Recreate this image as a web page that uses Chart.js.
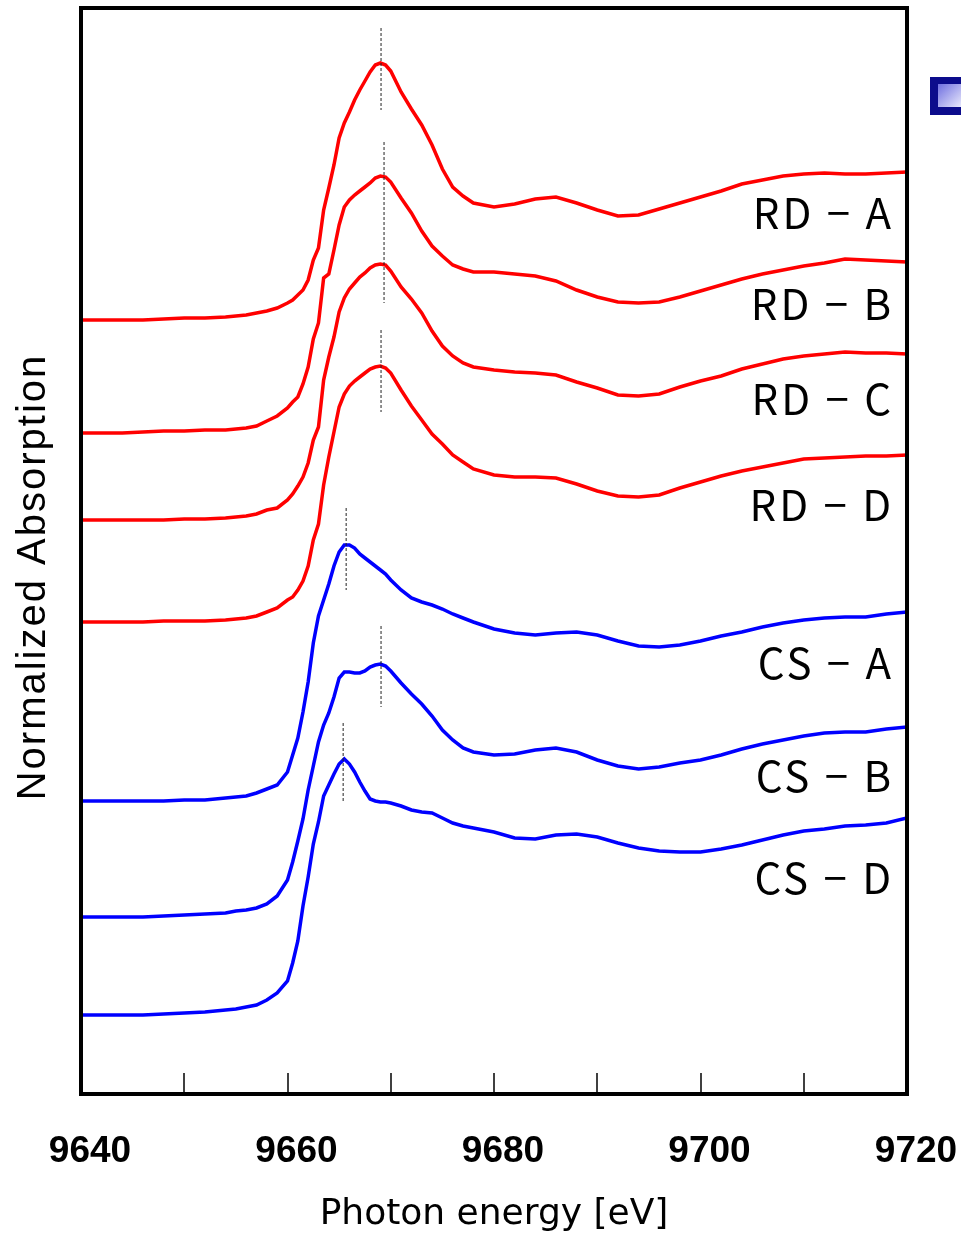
<!DOCTYPE html>
<html>
<head>
<meta charset="utf-8">
<script src="https://cdn.jsdelivr.net/npm/chart.js@4.4.0/dist/chart.umd.min.js"></script>
<style>
  html, body { margin: 0; padding: 0; background: #fff; }
</style>
</head>
<body>
<canvas id="xanesChart" width="961" height="1236"></canvas>
<script>
// photon energy grid (eV), finer steps across the edge
const energy = [9640, 9642, 9644, 9646, 9648, 9650, 9652, 9654, 9655, 9656,
  9657, 9658, 9659, 9660, 9660.5, 9661, 9661.5, 9662, 9662.5, 9663,
  9663.5, 9664, 9664.5, 9665, 9665.5, 9666, 9666.5, 9667, 9667.5, 9668,
  9668.5, 9669, 9669.5, 9670, 9671, 9672, 9673, 9674, 9675, 9676,
  9677, 9678, 9680, 9682, 9684, 9686, 9688, 9690, 9692, 9694,
  9696, 9698, 9700, 9702, 9704, 9706, 9708, 9710, 9712, 9714,
  9716, 9718, 9720];

// normalized absorption, stacked with offsets
const rdA = [7.74, 7.74, 7.74, 7.74, 7.75, 7.76, 7.76, 7.77, 7.78, 7.79,
  7.81, 7.83, 7.86, 7.91, 7.94, 7.99, 8.04, 8.14, 8.34, 8.46,
  8.84, 9.06, 9.29, 9.56, 9.71, 9.82, 9.94, 10.04, 10.13, 10.22,
  10.29, 10.31, 10.29, 10.23, 10.02, 9.85, 9.69, 9.49, 9.25, 9.07,
  8.98, 8.91, 8.87, 8.90, 8.95, 8.97, 8.91, 8.84, 8.78, 8.79,
  8.85, 8.91, 8.97, 9.03, 9.10, 9.14, 9.18, 9.20, 9.21, 9.20,
  9.20, 9.21, 9.22];
const rdB = [6.61, 6.61, 6.61, 6.62, 6.63, 6.63, 6.64, 6.64, 6.65, 6.66,
  6.68, 6.73, 6.78, 6.86, 6.92, 6.97, 7.10, 7.27, 7.55, 7.71,
  8.16, 8.20, 8.44, 8.69, 8.87, 8.94, 8.99, 9.03, 9.07, 9.11,
  9.16, 9.18, 9.17, 9.12, 8.96, 8.81, 8.63, 8.48, 8.38, 8.29,
  8.25, 8.22, 8.22, 8.20, 8.18, 8.13, 8.04, 7.97, 7.92, 7.91,
  7.92, 7.97, 8.03, 8.09, 8.15, 8.20, 8.24, 8.28, 8.31, 8.35,
  8.34, 8.33, 8.32];
const rdC = [5.74, 5.74, 5.74, 5.74, 5.74, 5.75, 5.75, 5.76, 5.77, 5.78,
  5.80, 5.84, 5.86, 5.94, 6.00, 6.08, 6.17, 6.31, 6.54, 6.67,
  7.14, 7.37, 7.57, 7.82, 7.96, 8.05, 8.11, 8.17, 8.21, 8.26,
  8.29, 8.30, 8.29, 8.23, 8.07, 7.95, 7.81, 7.63, 7.48, 7.38,
  7.31, 7.27, 7.24, 7.22, 7.21, 7.19, 7.12, 7.06, 6.99, 6.98,
  7.00, 7.07, 7.13, 7.18, 7.25, 7.30, 7.35, 7.38, 7.40, 7.42,
  7.41, 7.41, 7.40];
const rdD = [4.72, 4.72, 4.72, 4.72, 4.73, 4.73, 4.73, 4.74, 4.75, 4.76,
  4.78, 4.82, 4.86, 4.94, 4.97, 5.04, 5.13, 5.28, 5.54, 5.70,
  6.09, 6.37, 6.62, 6.87, 7.00, 7.08, 7.13, 7.17, 7.21, 7.25,
  7.27, 7.28, 7.26, 7.21, 7.04, 6.88, 6.74, 6.60, 6.50, 6.39,
  6.32, 6.25, 6.19, 6.17, 6.17, 6.16, 6.10, 6.03, 5.98, 5.97,
  5.99, 6.06, 6.12, 6.18, 6.23, 6.27, 6.31, 6.35, 6.36, 6.37,
  6.38, 6.38, 6.39];
const csA = [2.93, 2.93, 2.93, 2.93, 2.93, 2.94, 2.94, 2.96, 2.97, 2.98,
  3.01, 3.05, 3.09, 3.22, 3.39, 3.56, 3.82, 4.12, 4.51, 4.78,
  4.94, 5.10, 5.28, 5.42, 5.49, 5.49, 5.46, 5.40, 5.36, 5.32,
  5.28, 5.24, 5.20, 5.14, 5.04, 4.96, 4.92, 4.89, 4.85, 4.80,
  4.76, 4.72, 4.65, 4.61, 4.59, 4.61, 4.62, 4.59, 4.53, 4.48,
  4.47, 4.49, 4.53, 4.58, 4.62, 4.67, 4.71, 4.74, 4.76, 4.77,
  4.77, 4.80, 4.82];
const csB = [1.77, 1.77, 1.77, 1.77, 1.78, 1.79, 1.80, 1.81, 1.83, 1.84,
  1.86, 1.90, 1.98, 2.14, 2.32, 2.53, 2.75, 3.04, 3.28, 3.52,
  3.69, 3.81, 3.97, 4.16, 4.22, 4.22, 4.21, 4.21, 4.23, 4.27,
  4.29, 4.30, 4.28, 4.23, 4.11, 4.00, 3.90, 3.78, 3.64, 3.54,
  3.46, 3.42, 3.39, 3.40, 3.44, 3.46, 3.42, 3.34, 3.28, 3.25,
  3.27, 3.31, 3.34, 3.39, 3.45, 3.50, 3.54, 3.58, 3.61, 3.62,
  3.62, 3.65, 3.67];
const csD = [0.79, 0.79, 0.79, 0.79, 0.80, 0.81, 0.82, 0.84, 0.85, 0.87,
  0.89, 0.94, 1.01, 1.13, 1.31, 1.53, 1.88, 2.17, 2.50, 2.72,
  2.98, 3.09, 3.20, 3.30, 3.35, 3.30, 3.22, 3.12, 3.03, 2.95,
  2.93, 2.92, 2.92, 2.91, 2.88, 2.84, 2.82, 2.81, 2.76, 2.71,
  2.68, 2.66, 2.62, 2.56, 2.55, 2.59, 2.60, 2.57, 2.51, 2.46,
  2.43, 2.42, 2.42, 2.45, 2.49, 2.54, 2.59, 2.63, 2.65, 2.68,
  2.69, 2.71, 2.76];

// dotted peak markers
const peakEnergy = [9669.06, 9669.35, 9669.06, 9665.68, 9669.06, 9665.39];
const peakTop = [10.66, 9.52, 7.64, 5.86, 4.68, 3.71];
const peakBottom = [9.84, 7.91, 6.82, 5.04, 3.87, 2.91];

const curveNames = ["RD − A", "RD − B", "RD − C", "RD − D", "CS − A", "CS − B", "CS − D"];
const nameLevel = [8.81, 7.90, 6.95, 5.89, 4.31, 3.18, 2.16];
const nameEnergy = 9718.75;

const xTicks = [9640, 9660, 9680, 9700, 9720];
const minorTicks = [9650, 9660, 9670, 9680, 9690, 9700, 9710];

const curves = [rdA, rdB, rdC, rdD, csA, csB, csD];
const curveColors = ['#ff0000', '#ff0000', '#ff0000', '#ff0000', '#0000ff', '#0000ff', '#0000ff'];

var datasets = [];
peakEnergy.forEach((e, i) => {
    datasets.push({
        data: [{x: e, y: peakTop[i]}, {x: e, y: peakBottom[i]}],
        borderColor: '#222',
        borderWidth: 1,
        borderDash: [3, 2],
        pointRadius: 0,
        order: 0
    });
});
curves.forEach((c, i) => {
    datasets.push({
        data: energy.map((e, k) => ({x: e, y: c[k]})),
        borderColor: curveColors[i],
        borderWidth: 3.5,
        pointRadius: 0,
        tension: 0,
        order: 1
    });
});

/* frame, inward ticks, curve names, y title and the small legend box */
const decor = {
    id: 'decor',
    afterDraw(chart) {
        const {ctx, chartArea, scales} = chart;
        const xs = scales.x, ys = scales.y;
        ctx.save();
        ctx.strokeStyle = '#000';
        ctx.lineWidth = 1.5;
        minorTicks.forEach(v => {
            const px = Math.round(xs.getPixelForValue(v));
            ctx.beginPath();
            ctx.moveTo(px, chartArea.bottom);
            ctx.lineTo(px, chartArea.bottom - 21);
            ctx.stroke();
        });
        ctx.lineWidth = 4;
        ctx.strokeRect(chartArea.left, chartArea.top, chartArea.width, chartArea.height);

        ctx.fillStyle = '#000';
        ctx.font = '42px "Noto Sans CJK JP"';
        ctx.letterSpacing = '3px';
        ctx.textAlign = 'right';
        ctx.textBaseline = 'middle';
        curveNames.forEach((t, i) => {
            ctx.fillText(t, xs.getPixelForValue(nameEnergy), ys.getPixelForValue(nameLevel[i]));
        });

        ctx.translate(34, 577);
        ctx.rotate(-Math.PI / 2);
        ctx.textAlign = 'center';
        ctx.letterSpacing = '2px';
        ctx.font = '40px "Liberation Sans"';
        ctx.fillText('Normalized Absorption', 0, 0);
        ctx.setTransform(1, 0, 0, 1, 0, 0);
        ctx.letterSpacing = '0px';

        const bx = chartArea.right + 23, by = 77;
        ctx.fillStyle = '#0c0c8c';
        ctx.fillRect(bx, by, 40, 38);
        const g = ctx.createLinearGradient(bx + 8, by + 7, bx + 30, by + 30);
        g.addColorStop(0, '#6f6fe0');
        g.addColorStop(1, '#e6e6fb');
        ctx.fillStyle = g;
        ctx.fillRect(bx + 8, by + 7, 30, 23);
        ctx.restore();
    }
};

ctx = document.getElementById("xanesChart").getContext("2d");
xanesChart = new Chart(ctx, {
    type: "line",
    data: { datasets: datasets },
    options: {
        responsive: false,
        animation: false,
        devicePixelRatio: 1,
        layout: { padding: { left: 81, right: 54, top: 8, bottom: 0 } },
        scales: {
            x: {
                type: "linear",
                min: 9640,
                max: 9720,
                afterBuildTicks: (scale) => { scale.ticks = xTicks.map(v => ({value: v})); },
                afterFit: (scale) => {
                    scale.height = 142;
                    scale.paddingLeft = 0;
                    scale.paddingRight = 0;
                },
                grid: { display: false, drawTicks: false },
                border: { display: false },
                ticks: {
                    color: "#000",
                    padding: 36,
                    labelOffset: 9,
                    maxRotation: 0,
                    autoSkip: false,
                    callback: (v) => String(v),
                    font: { family: "Liberation Sans", size: 37, weight: "bold" }
                },
                title: {
                    display: true,
                    text: "Photon energy [eV]",
                    color: "#000",
                    padding: { top: 0, bottom: 0 },
                    font: { family: "DejaVu Sans", size: 36 }
                }
            },
            y: {
                display: false,
                min: 0,
                max: 10.86
            }
        },
        plugins: {
            legend: { display: false },
            tooltip: { enabled: false }
        }
    },
    plugins: [decor]
});
</script>
</body>
</html>
